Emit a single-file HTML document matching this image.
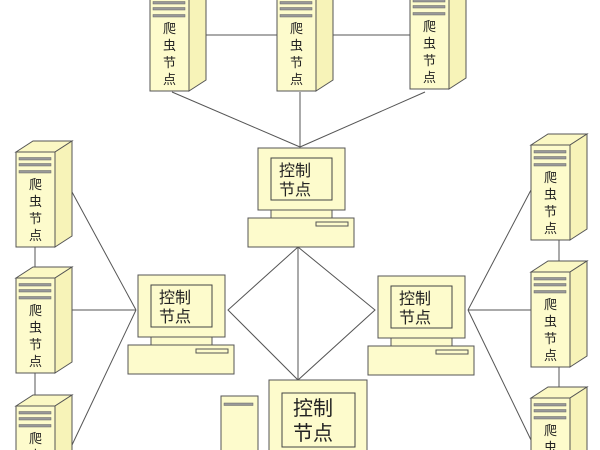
<!DOCTYPE html>
<html><head><meta charset="utf-8"><style>
html,body{margin:0;padding:0;background:#fff;width:600px;height:450px;overflow:hidden}
svg{display:block}
text{font-family:"Liberation Sans","Noto Sans CJK SC",sans-serif;fill:#222}
</style></head><body>
<svg width="600" height="450" viewBox="0 0 600 450" xmlns="http://www.w3.org/2000/svg" overflow="hidden">
<defs>
<clipPath id="cp"><rect x="0" y="0" width="600" height="450"/></clipPath>
<g id="srv">
<polygon points="0,0 17,-11 56,-11 39,0" fill="#fbf8c4" stroke="#555" stroke-width="1"/>
<polygon points="39,0 56,-11 56,84 39,95" fill="#f7f3b8" stroke="#555" stroke-width="1"/>
<rect x="0" y="0" width="39" height="95" fill="#fdfbcc" stroke="#555" stroke-width="1"/>
<rect x="3" y="5.5" width="32" height="2.5" fill="#999" stroke="#666" stroke-width="0.5"/>
<rect x="3" y="11.5" width="32" height="2.5" fill="#999" stroke="#666" stroke-width="0.5"/>
<rect x="3" y="18.5" width="32" height="2.5" fill="#999" stroke="#666" stroke-width="0.5"/>
<text x="19.5" y="37" font-size="13" text-anchor="middle">爬</text>
<text x="19.5" y="54" font-size="13" text-anchor="middle">虫</text>
<text x="19.5" y="71" font-size="13" text-anchor="middle">节</text>
<text x="19.5" y="88" font-size="13" text-anchor="middle">点</text>
</g>
<g id="pc">
<rect x="0" y="0" width="87" height="62" fill="#fdfbcc" stroke="#555"/>
<rect x="13" y="10" width="61" height="42" fill="#fdfbcc" stroke="#444"/>
<text x="21" y="28" font-size="16">控制</text>
<text x="21" y="47" font-size="16">节点</text>
<rect x="13" y="62" width="61" height="8" fill="#fdfbcc" stroke="#555"/>
<rect x="-10" y="70" width="106" height="29" fill="#fdfbcc" stroke="#555"/>
<rect x="58" y="74" width="32" height="4" fill="#fdfbcc" stroke="#555"/>
</g>
</defs>
<g clip-path="url(#cp)">
<g stroke="#555" stroke-width="1" fill="none">
<line x1="206" y1="35" x2="277" y2="35"/>
<line x1="333" y1="35" x2="410" y2="35"/>
<line x1="172" y1="92" x2="300" y2="147"/>
<line x1="300" y1="92" x2="300" y2="147"/>
<line x1="425" y1="92" x2="300" y2="147"/>
<line x1="72" y1="192" x2="136" y2="310"/>
<line x1="72" y1="310" x2="136" y2="310"/>
<line x1="72" y1="445" x2="136" y2="310"/>
<line x1="35" y1="247" x2="35" y2="278"/>
<line x1="35" y1="373" x2="35" y2="406"/>
<line x1="531" y1="190" x2="468" y2="310"/>
<line x1="531" y1="310" x2="468" y2="310"/>
<line x1="531" y1="440" x2="468" y2="310"/>
<line x1="559" y1="240" x2="559" y2="272"/>
<line x1="559" y1="367" x2="559" y2="398"/>
<polygon points="298,247 228,310 298,380 375,310"/>
<line x1="298" y1="247" x2="298" y2="380"/>
</g>
<use href="#srv" x="150" y="-4"/>
<use href="#srv" x="277" y="-4"/>
<use href="#srv" x="410" y="-6"/>
<use href="#srv" x="16" y="152"/>
<use href="#srv" x="16" y="278"/>
<use href="#srv" x="16" y="406"/>
<use href="#srv" x="531" y="145"/>
<use href="#srv" x="531" y="272"/>
<use href="#srv" x="531" y="398"/>
<use href="#pc" x="258" y="148"/>
<use href="#pc" x="138" y="275"/>
<use href="#pc" x="378" y="276"/>
<rect x="221" y="396" width="37" height="60" fill="#fdfbcc" stroke="#555"/>
<rect x="224" y="403" width="29" height="2.5" fill="#999" stroke="#666" stroke-width="0.5"/>
<rect x="269" y="380" width="98" height="80" fill="#fdfbcc" stroke="#555"/>
<rect x="282" y="393" width="73" height="54" fill="#fdfbcc" stroke="#444"/>
<text x="293" y="415" font-size="20">控制</text>
<text x="293" y="440" font-size="20">节点</text>
</g>
</svg>
</body></html>
